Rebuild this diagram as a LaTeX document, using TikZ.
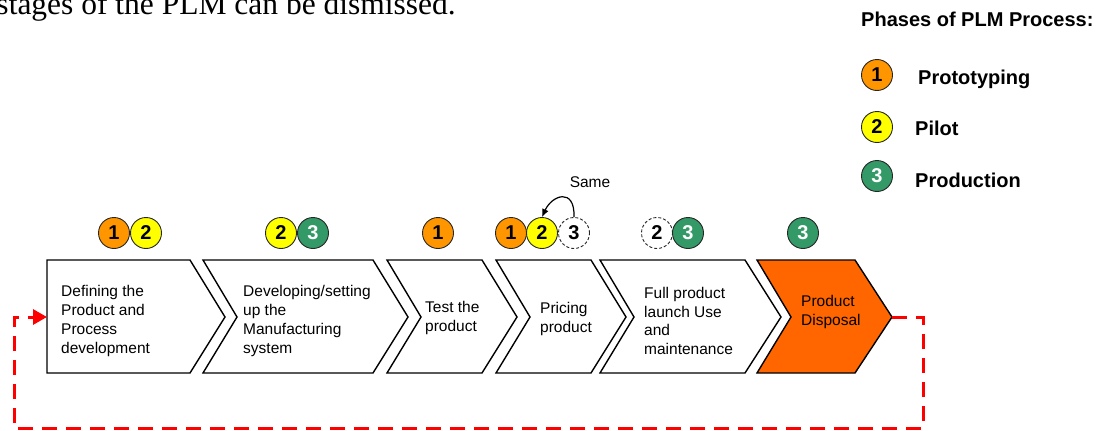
\documentclass[tikz,border=0pt]{standalone}
\usepackage{fontspec}
\setmainfont{Liberation Serif}
\setsansfont{Liberation Sans}
\usetikzlibrary{arrows.meta}

\definecolor{phaseorange}{RGB}{255,150,0}
\definecolor{phaseyellow}{RGB}{255,255,0}
\definecolor{phasegreen}{RGB}{51,153,102}
\definecolor{disposalfill}{RGB}{255,102,0}

\tikzset{
  chev/.style={draw=black, line width=1.4pt, line join=miter, fill=white},
  steptext/.style={font=\sffamily\fontsize{15.5}{18.7}\selectfont, align=left, anchor=west, inner sep=0pt},
  phase/.style={circle, minimum size=31pt, inner sep=0pt, draw=black!85, line width=0.9pt,
                font=\sffamily\bfseries\fontsize{20}{20}\selectfont},
  pone/.style={phase, fill=phaseorange},
  ptwo/.style={phase, fill=phaseyellow},
  pthree/.style={phase, fill=phasegreen, text=white},
  pghost/.style={phase, fill=white, dash pattern=on 3pt off 2pt},
  legendtext/.style={font=\sffamily\bfseries\fontsize{20}{24}\selectfont, anchor=base west, inner sep=0pt},
  loopline/.style={draw=red, line width=3pt, dash pattern=on 15pt off 9pt},
}

\begin{document}
\begin{tikzpicture}[x=1pt, y=-1pt]
  \useasboundingbox (0,0) rectangle (1109,431);
  \clip (0,0) rectangle (1109,431);

  % running text above the figure
  \node[anchor=base east, inner sep=0pt, font=\fontsize{31.5}{31.5}\selectfont] (intro) at (456,14)
    {stages of the PLM can be dismissed.};

  % legend
  \node[legendtext] (legtitle) at (861,26) {Phases of PLM Process:};
  \node[pone]   (leg1) at (877,75)  {1};
  \node[ptwo]   (leg2) at (877,127) {2};
  \node[pthree] (leg3) at (877,176) {3};
  \node[legendtext] (leg1t) at (918,84)  {Prototyping};
  \node[legendtext] (leg2t) at (915,135) {Pilot};
  \node[legendtext] (leg3t) at (915,187) {Production};

  % process steps (chevrons)
  \draw[chev] (47,260) -- (190,260) -- (225,317) -- (190,373) -- (47,373) -- cycle;
  \draw[chev] (203,260) -- (373,260) -- (408,317) -- (373,373) -- (203,373) -- (237,317) -- cycle;
  \draw[chev] (387,260) -- (482,260) -- (517,317) -- (482,373) -- (387,373) -- (421,317) -- cycle;
  \draw[chev] (496,260) -- (591,260) -- (626,317) -- (591,373) -- (496,373) -- (530,317) -- cycle;
  \draw[chev] (600,260) -- (745,260) -- (781,317) -- (745,373) -- (600,373) -- (634,317) -- cycle;
  \draw[chev, fill=disposalfill] (757,260) -- (855,260) -- (892,317) -- (855,373) -- (757,373) -- (791,317) -- cycle;
  \coordinate (s1in)  at (47,317);
  \coordinate (s6tip) at (892,317);

  \node[steptext] (s1) at (61,321)  {Defining the\\Product and\\Process\\development};
  \node[steptext] (s2) at (243,321) {Developing/setting\\up the\\Manufacturing\\system};
  \node[steptext] (s3) at (425,318) {Test the\\product};
  \node[steptext] (s4) at (540,319) {Pricing\\product};
  \node[steptext] (s5) at (644,321) {Full product\\launch Use\\and\\maintenance};
  \node[steptext] (s6) at (801,312) {Product\\Disposal};

  % phase markers above the steps
  \node[pone]   (a1) at (114,233) {1};
  \node[ptwo]   (a2) at (146,233) {2};
  \node[ptwo]   (b2) at (281,233) {2};
  \node[pthree] (b3) at (313,233) {3};
  \node[pone]   (c1) at (438,233) {1};
  \node[pone]   (d1) at (511,233) {1};
  \node[ptwo]   (d2) at (542,233) {2};
  \node[pghost] (d3) at (574,233) {3};
  \node[pghost] (e2) at (657,233) {2};
  \node[pthree] (e3) at (688,233) {3};
  \node[pthree] (f3) at (803,233) {3};

  % "Same" link from the dashed 3 back to 2
  \draw[line width=1.2pt, -{Latex[length=8pt,width=7pt]}]
    (d3.north) .. controls +(1,-30) and +(10,-22) .. (d2.north);
  \node[font=\sffamily\fontsize{15.5}{18.7}\selectfont, inner sep=0pt] (same) at (590,182) {Same};

  % feedback loop from disposal back to the first step
  \draw[loopline, -{Triangle[length=14pt,width=15pt]}]
    (s6tip) -- (923,317) -- (923,428) -- (14,428) -- (14,317) -- (s1in);
\end{tikzpicture}
\end{document}
